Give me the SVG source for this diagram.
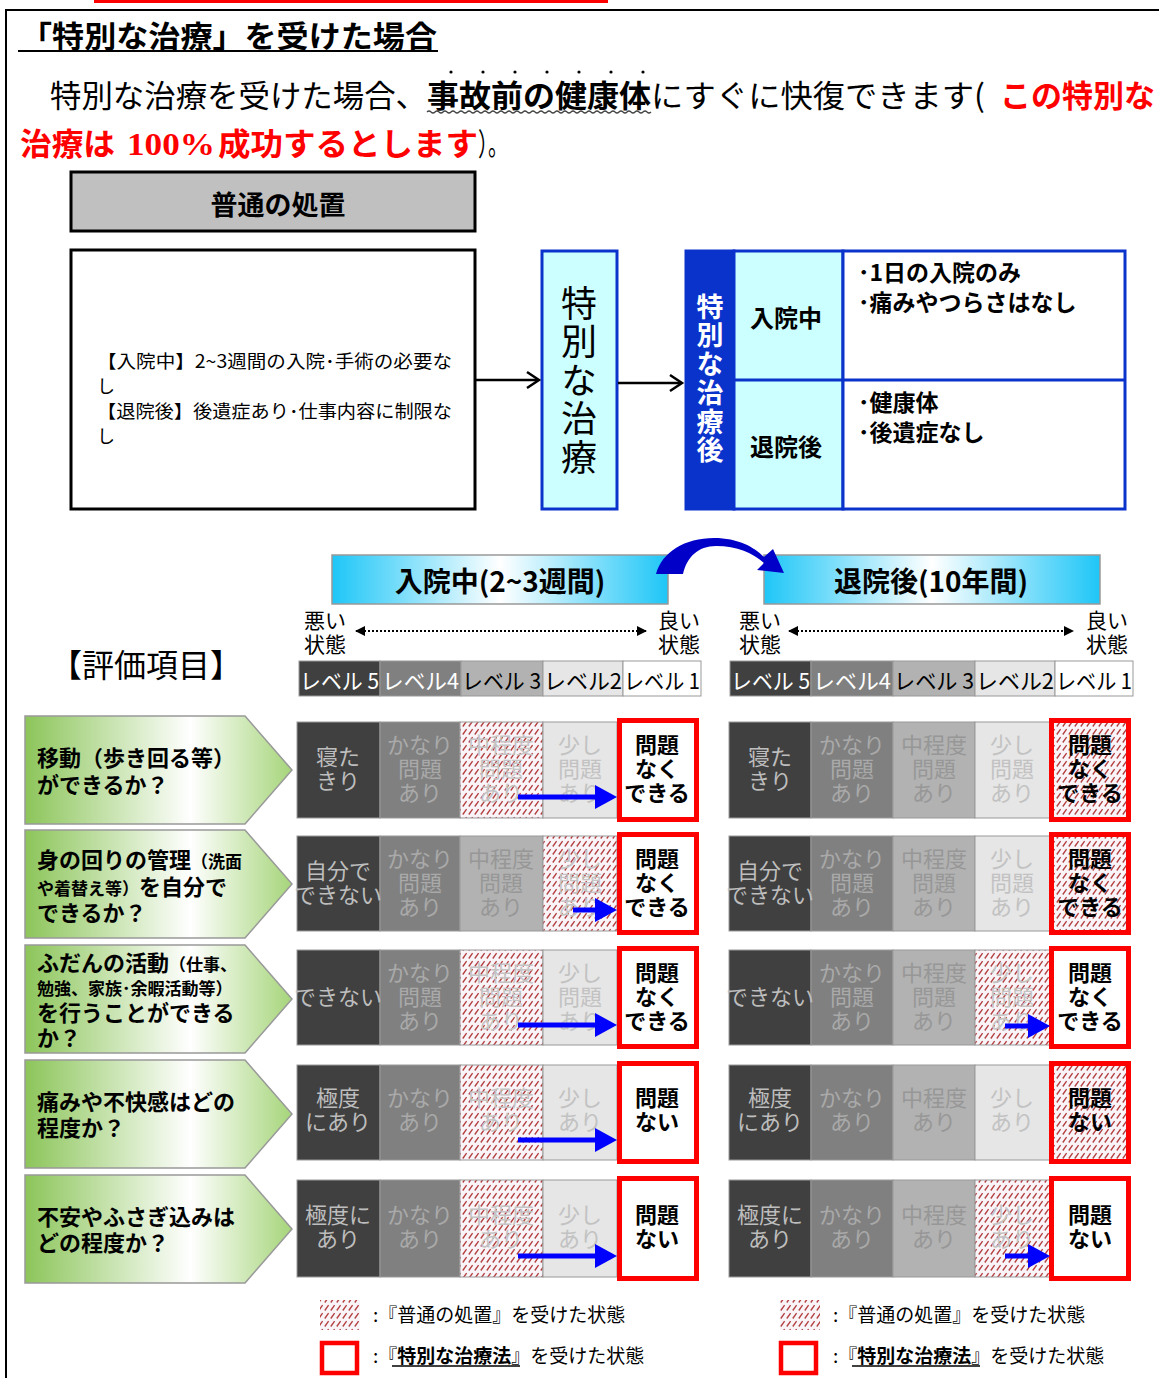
<svg xmlns="http://www.w3.org/2000/svg" width="1159" height="1378" viewBox="0 0 1159 1378">
<style>
text{font-family:"Noto Sans CJK JP","Noto Sans CJK SC",sans-serif;}
.b{font-weight:bold}
.c{text-anchor:middle;dominant-baseline:central}
.m{text-anchor:middle}
.cell{stroke:#999;stroke-width:1}
.l5{fill:#404040}.l4{fill:#808080}.l3{fill:#b2b2b2}.l2{fill:#e6e6e6}
.t5{fill:#bdbdbd}.t4{fill:#a9a9a9}.t3{fill:#979797}.t2{fill:#c2c2c2}.th{fill:#c4c4c4}
.ct{font-size:22px;text-anchor:middle}
.red{fill:#fff;stroke:#ff0000;stroke-width:5}
.hr{fill:url(#hatch);stroke:#ff0000;stroke-width:5}
.ok{font-size:22px;font-weight:bold;fill:#000;text-anchor:middle}
.pent{fill:url(#gGreen);stroke:#999;stroke-width:1.5}
.pt{font-size:22px;font-weight:bold}
.sm{font-size:17px}
.blue{stroke:#0000ff;stroke-width:5}
.bh{fill:#0000ff}
.lv{font-size:22px;dominant-baseline:central}
.vt{writing-mode:vertical-rl}
</style>
<defs>
<pattern id="hatch" width="6" height="8" patternUnits="userSpaceOnUse">
<rect width="6" height="8" fill="#f8f4f8"/>
<line x1="0.8" y1="6.5" x2="4.6" y2="1.2" stroke="#b23a3a" stroke-width="1.3"/>
</pattern>
<linearGradient id="gCyan" x1="0" y1="0" x2="1" y2="0">
<stop offset="0" stop-color="#1ec6f7"/><stop offset="0.5" stop-color="#ffffff"/><stop offset="1" stop-color="#1ec6f7"/>
</linearGradient>
<linearGradient id="gGreen" x1="0" y1="0" x2="1" y2="0">
<stop offset="0" stop-color="#8cc55a"/><stop offset="0.62" stop-color="#ffffff"/><stop offset="1" stop-color="#a6d57a"/>
</linearGradient>
<marker id="tri" viewBox="0 0 10 10" refX="9" refY="5" markerWidth="5" markerHeight="5" orient="auto-start-reverse"><path d="M0,0 L10,5 L0,10 Z" fill="#000"/></marker>
</defs>
<rect width="1159" height="1378" fill="#fff"/>
<!-- page frame -->
<line x1="94" y1="1.5" x2="608" y2="1.5" stroke="#ff0000" stroke-width="3"/>
<line x1="5" y1="10" x2="1159" y2="10" stroke="#000" stroke-width="2"/>
<line x1="6" y1="10" x2="6" y2="1378" stroke="#000" stroke-width="2"/>

<!-- heading and paragraph -->
<g id="title">
<text x="20" y="47" font-size="30" class="b" textLength="417" lengthAdjust="spacingAndGlyphs">「特別な治療」を受けた場合</text>
<line x1="18" y1="51" x2="438" y2="51" stroke="#000" stroke-width="2"/>
</g>
<g id="paragraph">
<text x="50" y="107" font-size="31" textLength="377" lengthAdjust="spacingAndGlyphs">特別な治療を受けた場合、</text>
<text x="427" y="107" font-size="31" class="b" textLength="224" lengthAdjust="spacingAndGlyphs">事故前の健康体</text>
<g fill="#000"><circle cx="451" cy="72" r="1.6"/><circle cx="483" cy="72" r="1.6"/><circle cx="515" cy="72" r="1.6"/><circle cx="547" cy="72" r="1.6"/><circle cx="579" cy="72" r="1.6"/><circle cx="611" cy="72" r="1.6"/><circle cx="643" cy="72" r="1.6"/></g>
<path d="M427,112 q2,-2 4,0 t4,0 t4,0 t4,0 t4,0 t4,0 t4,0 t4,0 t4,0 t4,0 t4,0 t4,0 t4,0 t4,0 t4,0 t4,0 t4,0 t4,0 t4,0 t4,0 t4,0 t4,0 t4,0 t4,0 t4,0 t4,0 t4,0 t4,0 t4,0 t4,0 t4,0 t4,0 t4,0 t4,0 t4,0 t4,0 t4,0 t4,0 t4,0 t4,0 t4,0 t4,0 t4,0 t4,0 t4,0 t4,0 t4,0 t4,0 t4,0 t4,0 t4,0 t4,0 t4,0 t4,0 t4,0 t4,0" fill="none" stroke="#444" stroke-width="1.2"/>
<text x="651" y="107" font-size="31" textLength="334" lengthAdjust="spacingAndGlyphs">にすぐに快復できます(</text>
<text x="1000" y="107" font-size="31" class="b" fill="#ff0000" textLength="155" lengthAdjust="spacingAndGlyphs">この特別な</text>
<text x="20" y="155" font-size="31" class="b" fill="#ff0000" textLength="95" lengthAdjust="spacingAndGlyphs">治療は</text>
<text x="127" y="155" font-size="32" font-weight="bold" fill="#ff0000" style="font-family:'Liberation Serif',serif" textLength="88" lengthAdjust="spacingAndGlyphs">100%</text>
<text x="218" y="155" font-size="31" class="b" fill="#ff0000" textLength="260" lengthAdjust="spacingAndGlyphs">成功するとします</text>
<text x="478" y="155" font-size="31" textLength="30" lengthAdjust="spacingAndGlyphs">）。</text>
</g>

<!-- top diagram -->
<g id="normal-header">
<rect x="71" y="172" width="404" height="59" fill="#c0c0c0" stroke="#000" stroke-width="3"/>
<text x="278" y="203" font-size="27" class="b c">普通の処置</text>
</g>
<g id="normal-box">
<rect x="71" y="250" width="404" height="259" fill="#fff" stroke="#000" stroke-width="3"/>
<text x="97" y="368" font-size="18"><tspan x="97" textLength="355" lengthAdjust="spacingAndGlyphs">【入院中】2~3週間の入院･手術の必要な</tspan><tspan x="97" dy="25">し</tspan><tspan x="97" dy="25" textLength="355" lengthAdjust="spacingAndGlyphs">【退院後】後遺症あり･仕事内容に制限な</tspan><tspan x="97" dy="25">し</tspan></text>
</g>
<g id="special-treatment">
<rect x="542" y="251" width="75" height="258" fill="#ccffff" stroke="#0a33cc" stroke-width="3"/>
<text x="579" y="285" font-size="36" class="vt" letter-spacing="2.5">特別な治療</text>
</g>
<g id="after-table">
<rect x="686" y="251" width="48" height="258" fill="#0a33cc" stroke="#0a33cc" stroke-width="3"/>
<rect x="734" y="251" width="109" height="258" fill="#ccffff" stroke="#0a33cc" stroke-width="3"/>
<rect x="843" y="251" width="282" height="258" fill="#fff" stroke="#0a33cc" stroke-width="3"/>
<line x1="734" y1="380" x2="1125" y2="380" stroke="#0a33cc" stroke-width="3"/>
<text x="710" y="293" font-size="27" class="b vt" fill="#fff" letter-spacing="1.7">特別な治療後</text>
<text x="786" y="316" font-size="24" class="b c">入院中</text>
<text x="786" y="445" font-size="24" class="b c">退院後</text>
<text x="858" y="281" font-size="23" class="b"><tspan x="858">･1日の入院のみ</tspan><tspan x="858" dy="30">･痛みやつらさはなし</tspan></text>
<text x="858" y="411" font-size="23" class="b"><tspan x="858">･健康体</tspan><tspan x="858" dy="30">･後遺症なし</tspan></text>
</g>
<g id="connectors-top" stroke="#000" stroke-width="2.5" fill="none">
<line x1="476" y1="380" x2="538" y2="380"/><polyline points="527,372 539,380 527,388"/>
<line x1="618" y1="383" x2="681" y2="383"/><polyline points="670,375 682,383 670,391"/>
</g>

<!-- period banners -->
<g id="banner-in">
<rect x="332" y="555" width="336" height="49" fill="url(#gCyan)" stroke="#999" stroke-width="1.5"/>
<text x="500" y="580" font-size="28" class="b c">入院中(2~3週間)</text>
</g>
<g id="banner-out">
<rect x="764" y="555" width="336" height="49" fill="url(#gCyan)" stroke="#999" stroke-width="1.5"/>
<text x="931" y="580" font-size="28" class="b c">退院後(10年間)</text>
</g>
<g id="curve-arrow">
<path d="M656,574 C662,552 685,538 714,538 C738,538 754,547 764,557 L773,549 L784,573 L757,570 L764,563 C753,553 737,546 716,546 C698,546 687,557 683,574 Z" fill="#0000c8"/>
</g>

<!-- scales -->
<g id="scale-left" font-size="21">
<text x="304" y="628"><tspan x="304">悪い</tspan><tspan x="304" dy="24">状態</tspan></text>
<text x="700" y="628" text-anchor="end"><tspan x="700">良い</tspan><tspan x="700" dy="24">状態</tspan></text>
<line x1="356" y1="631" x2="646" y2="631" stroke="#000" stroke-width="2" stroke-dasharray="2,2" marker-start="url(#tri)" marker-end="url(#tri)"/>
</g>
<g id="scale-right" font-size="21">
<text x="739" y="628"><tspan x="739">悪い</tspan><tspan x="739" dy="24">状態</tspan></text>
<text x="1128" y="628" text-anchor="end"><tspan x="1128">良い</tspan><tspan x="1128" dy="24">状態</tspan></text>
<line x1="789" y1="631" x2="1073" y2="631" stroke="#000" stroke-width="2" stroke-dasharray="2,2" marker-start="url(#tri)" marker-end="url(#tri)"/>
</g>
<g id="levels-left">
<rect x="299" y="661" width="81" height="35" class="l5 cell"/><rect x="380" y="661" width="81" height="35" class="l4 cell"/><rect x="461" y="661" width="82" height="35" class="l3 cell"/><rect x="543" y="661" width="80" height="35" class="l2 cell"/><rect x="623" y="661" width="78" height="35" fill="#fff" class="cell"/>
<text x="300" y="679" class="lv" fill="#fff" textLength="79" lengthAdjust="spacingAndGlyphs">レベル 5</text>
<text x="382" y="679" class="lv" fill="#fff" textLength="77" lengthAdjust="spacingAndGlyphs">レベル4</text>
<text x="462" y="679" class="lv" textLength="79" lengthAdjust="spacingAndGlyphs">レベル 3</text>
<text x="544" y="679" class="lv" textLength="78" lengthAdjust="spacingAndGlyphs">レベル2</text>
<text x="624" y="679" class="lv" textLength="76" lengthAdjust="spacingAndGlyphs">レベル 1</text>
</g>
<g id="levels-right">
<rect x="730" y="661" width="81" height="35" class="l5 cell"/><rect x="811" y="661" width="82" height="35" class="l4 cell"/><rect x="893" y="661" width="82" height="35" class="l3 cell"/><rect x="975" y="661" width="80" height="35" class="l2 cell"/><rect x="1055" y="661" width="78" height="35" fill="#fff" class="cell"/>
<text x="731" y="679" class="lv" fill="#fff" textLength="79" lengthAdjust="spacingAndGlyphs">レベル 5</text>
<text x="813" y="679" class="lv" fill="#fff" textLength="78" lengthAdjust="spacingAndGlyphs">レベル4</text>
<text x="894" y="679" class="lv" textLength="80" lengthAdjust="spacingAndGlyphs">レベル 3</text>
<text x="976" y="679" class="lv" textLength="78" lengthAdjust="spacingAndGlyphs">レベル2</text>
<text x="1056" y="679" class="lv" textLength="76" lengthAdjust="spacingAndGlyphs">レベル 1</text>
</g>
<text x="50" y="677" font-size="32">【評価項目】</text>

<!-- Row 1 (T=722) -->
<g id="item-1">
<polygon points="25,716 245,716 292,770 245,824 25,824" class="pent"/>
<text class="pt" x="37" y="766"><tspan x="37">移動（歩き回る等）</tspan><tspan x="37" dy="27">ができるか？</tspan></text>
</g>
<g id="row-1-left">
<rect x="297" y="722" width="83" height="96" class="l5 cell"/><rect x="380" y="722" width="80" height="96" class="l4 cell"/><rect x="460" y="722" width="83" height="96" fill="url(#hatch)" class="cell"/><rect x="543" y="722" width="74" height="96" class="l2 cell"/>
<text x="338" y="765" class="ct t5"><tspan x="338">寝た</tspan><tspan x="338" dy="24">きり</tspan></text>
<text x="420" y="753" class="ct t4"><tspan x="420">かなり</tspan><tspan x="420" dy="24">問題</tspan><tspan x="420" dy="24">あり</tspan></text>
<text x="501" y="753" class="ct th"><tspan x="501">中程度</tspan><tspan x="501" dy="24">問題</tspan><tspan x="501" dy="24">あり</tspan></text>
<text x="580" y="753" class="ct t2"><tspan x="580">少し</tspan><tspan x="580" dy="24">問題</tspan><tspan x="580" dy="24">あり</tspan></text>
<rect x="619.5" y="720.5" width="77" height="99" class="red"/>
<text x="657" y="753" class="ok"><tspan x="657">問題</tspan><tspan x="657" dy="24">なく</tspan><tspan x="657" dy="24">できる</tspan></text>
</g>
<g id="row-1-right">
<rect x="729" y="722" width="82" height="96" class="l5 cell"/><rect x="811" y="722" width="82" height="96" class="l4 cell"/><rect x="893" y="722" width="82" height="96" class="l3 cell"/><rect x="975" y="722" width="75" height="96" class="l2 cell"/>
<text x="770" y="765" class="ct t5"><tspan x="770">寝た</tspan><tspan x="770" dy="24">きり</tspan></text>
<text x="852" y="753" class="ct t4"><tspan x="852">かなり</tspan><tspan x="852" dy="24">問題</tspan><tspan x="852" dy="24">あり</tspan></text>
<text x="934" y="753" class="ct t3"><tspan x="934">中程度</tspan><tspan x="934" dy="24">問題</tspan><tspan x="934" dy="24">あり</tspan></text>
<text x="1012" y="753" class="ct t2"><tspan x="1012">少し</tspan><tspan x="1012" dy="24">問題</tspan><tspan x="1012" dy="24">あり</tspan></text>
<rect x="1051.5" y="720.5" width="77" height="99" class="hr"/>
<text x="1090" y="753" class="ok"><tspan x="1090">問題</tspan><tspan x="1090" dy="24">なく</tspan><tspan x="1090" dy="24">できる</tspan></text>
</g>

<!-- Row 2 (T=836) -->
<g id="item-2">
<polygon points="25,830 245,830 292,884 245,938 25,938" class="pent"/>
<text class="pt" x="37" y="868"><tspan x="37">身の回りの管理</tspan><tspan class="sm">（洗面</tspan><tspan x="37" dy="27" class="sm">や着替え等）</tspan><tspan>を自分で</tspan><tspan x="37" dy="26">できるか？</tspan></text>
</g>
<g id="row-2-left">
<rect x="297" y="836" width="83" height="95" class="l5 cell"/><rect x="380" y="836" width="80" height="95" class="l4 cell"/><rect x="460" y="836" width="83" height="95" class="l3 cell"/><rect x="543" y="836" width="74" height="95" fill="url(#hatch)" class="cell"/>
<text x="338" y="879" class="ct t5"><tspan x="338">自分で</tspan><tspan x="338" dy="24">できない</tspan></text>
<text x="420" y="867" class="ct t4"><tspan x="420">かなり</tspan><tspan x="420" dy="24">問題</tspan><tspan x="420" dy="24">あり</tspan></text>
<text x="501" y="867" class="ct t3"><tspan x="501">中程度</tspan><tspan x="501" dy="24">問題</tspan><tspan x="501" dy="24">あり</tspan></text>
<text x="580" y="867" class="ct th"><tspan x="580">少し</tspan><tspan x="580" dy="24">問題</tspan><tspan x="580" dy="24">あり</tspan></text>
<rect x="619.5" y="834.5" width="77" height="98" class="red"/>
<text x="657" y="867" class="ok"><tspan x="657">問題</tspan><tspan x="657" dy="24">なく</tspan><tspan x="657" dy="24">できる</tspan></text>
</g>
<g id="row-2-right">
<rect x="729" y="836" width="82" height="95" class="l5 cell"/><rect x="811" y="836" width="82" height="95" class="l4 cell"/><rect x="893" y="836" width="82" height="95" class="l3 cell"/><rect x="975" y="836" width="75" height="95" class="l2 cell"/>
<text x="770" y="879" class="ct t5"><tspan x="770">自分で</tspan><tspan x="770" dy="24">できない</tspan></text>
<text x="852" y="867" class="ct t4"><tspan x="852">かなり</tspan><tspan x="852" dy="24">問題</tspan><tspan x="852" dy="24">あり</tspan></text>
<text x="934" y="867" class="ct t3"><tspan x="934">中程度</tspan><tspan x="934" dy="24">問題</tspan><tspan x="934" dy="24">あり</tspan></text>
<text x="1012" y="867" class="ct t2"><tspan x="1012">少し</tspan><tspan x="1012" dy="24">問題</tspan><tspan x="1012" dy="24">あり</tspan></text>
<rect x="1051.5" y="834.5" width="77" height="98" class="hr"/>
<text x="1090" y="867" class="ok"><tspan x="1090">問題</tspan><tspan x="1090" dy="24">なく</tspan><tspan x="1090" dy="24">できる</tspan></text>
</g>

<!-- Row 3 (T=950) -->
<g id="item-3">
<polygon points="25,945 245,945 292,999 245,1053 25,1053" class="pent"/>
<text class="pt" x="37" y="971"><tspan x="37">ふだんの活動</tspan><tspan class="sm">（仕事、</tspan><tspan x="37" dy="24" class="sm">勉強、家族･余暇活動等）</tspan><tspan x="37" dy="26">を行うことができる</tspan><tspan x="37" dy="25">か？</tspan></text>
</g>
<g id="row-3-left">
<rect x="297" y="950" width="83" height="95" class="l5 cell"/><rect x="380" y="950" width="80" height="95" class="l4 cell"/><rect x="460" y="950" width="83" height="95" fill="url(#hatch)" class="cell"/><rect x="543" y="950" width="74" height="95" class="l2 cell"/>
<text x="338" y="1005" class="ct t5">できない</text>
<text x="420" y="981" class="ct t4"><tspan x="420">かなり</tspan><tspan x="420" dy="24">問題</tspan><tspan x="420" dy="24">あり</tspan></text>
<text x="501" y="981" class="ct th"><tspan x="501">中程度</tspan><tspan x="501" dy="24">問題</tspan><tspan x="501" dy="24">あり</tspan></text>
<text x="580" y="981" class="ct t2"><tspan x="580">少し</tspan><tspan x="580" dy="24">問題</tspan><tspan x="580" dy="24">あり</tspan></text>
<rect x="619.5" y="948.5" width="77" height="98" class="red"/>
<text x="657" y="981" class="ok"><tspan x="657">問題</tspan><tspan x="657" dy="24">なく</tspan><tspan x="657" dy="24">できる</tspan></text>
</g>
<g id="row-3-right">
<rect x="729" y="950" width="82" height="95" class="l5 cell"/><rect x="811" y="950" width="82" height="95" class="l4 cell"/><rect x="893" y="950" width="82" height="95" class="l3 cell"/><rect x="975" y="950" width="75" height="95" fill="url(#hatch)" class="cell"/>
<text x="770" y="1005" class="ct t5">できない</text>
<text x="852" y="981" class="ct t4"><tspan x="852">かなり</tspan><tspan x="852" dy="24">問題</tspan><tspan x="852" dy="24">あり</tspan></text>
<text x="934" y="981" class="ct t3"><tspan x="934">中程度</tspan><tspan x="934" dy="24">問題</tspan><tspan x="934" dy="24">あり</tspan></text>
<text x="1012" y="981" class="ct th"><tspan x="1012">少し</tspan><tspan x="1012" dy="24">問題</tspan><tspan x="1012" dy="24">あり</tspan></text>
<rect x="1051.5" y="948.5" width="77" height="98" class="red"/>
<text x="1090" y="981" class="ok"><tspan x="1090">問題</tspan><tspan x="1090" dy="24">なく</tspan><tspan x="1090" dy="24">できる</tspan></text>
</g>

<!-- Row 4 (T=1065) -->
<g id="item-4">
<polygon points="25,1060 245,1060 292,1114 245,1168 25,1168" class="pent"/>
<text class="pt" x="37" y="1110"><tspan x="37">痛みや不快感はどの</tspan><tspan x="37" dy="26">程度か？</tspan></text>
</g>
<g id="row-4-left">
<rect x="297" y="1065" width="83" height="95" class="l5 cell"/><rect x="380" y="1065" width="80" height="95" class="l4 cell"/><rect x="460" y="1065" width="83" height="95" fill="url(#hatch)" class="cell"/><rect x="543" y="1065" width="74" height="95" class="l2 cell"/>
<text x="338" y="1106" class="ct t5"><tspan x="338">極度</tspan><tspan x="338" dy="24">にあり</tspan></text>
<text x="420" y="1106" class="ct t4"><tspan x="420">かなり</tspan><tspan x="420" dy="24">あり</tspan></text>
<text x="501" y="1106" class="ct th"><tspan x="501">中程度</tspan><tspan x="501" dy="24">あり</tspan></text>
<text x="580" y="1106" class="ct t2"><tspan x="580">少し</tspan><tspan x="580" dy="24">あり</tspan></text>
<rect x="619.5" y="1063.5" width="77" height="98" class="red"/>
<text x="657" y="1106" class="ok"><tspan x="657">問題</tspan><tspan x="657" dy="24">ない</tspan></text>
</g>
<g id="row-4-right">
<rect x="729" y="1065" width="82" height="95" class="l5 cell"/><rect x="811" y="1065" width="82" height="95" class="l4 cell"/><rect x="893" y="1065" width="82" height="95" class="l3 cell"/><rect x="975" y="1065" width="75" height="95" class="l2 cell"/>
<text x="770" y="1106" class="ct t5"><tspan x="770">極度</tspan><tspan x="770" dy="24">にあり</tspan></text>
<text x="852" y="1106" class="ct t4"><tspan x="852">かなり</tspan><tspan x="852" dy="24">あり</tspan></text>
<text x="934" y="1106" class="ct t3"><tspan x="934">中程度</tspan><tspan x="934" dy="24">あり</tspan></text>
<text x="1012" y="1106" class="ct t2"><tspan x="1012">少し</tspan><tspan x="1012" dy="24">あり</tspan></text>
<rect x="1051.5" y="1063.5" width="77" height="98" class="hr"/>
<text x="1090" y="1106" class="ok"><tspan x="1090">問題</tspan><tspan x="1090" dy="24">ない</tspan></text>
</g>

<!-- Row 5 (T=1180) -->
<g id="item-5">
<polygon points="25,1175 245,1175 292,1229 245,1283 25,1283" class="pent"/>
<text class="pt" x="37" y="1225"><tspan x="37">不安やふさぎ込みは</tspan><tspan x="37" dy="26">どの程度か？</tspan></text>
</g>
<g id="row-5-left">
<rect x="297" y="1180" width="83" height="97" class="l5 cell"/><rect x="380" y="1180" width="80" height="97" class="l4 cell"/><rect x="460" y="1180" width="83" height="97" fill="url(#hatch)" class="cell"/><rect x="543" y="1180" width="74" height="97" class="l2 cell"/>
<text x="338" y="1223" class="ct t5"><tspan x="338">極度に</tspan><tspan x="338" dy="24">あり</tspan></text>
<text x="420" y="1223" class="ct t4"><tspan x="420">かなり</tspan><tspan x="420" dy="24">あり</tspan></text>
<text x="501" y="1223" class="ct th"><tspan x="501">中程度</tspan><tspan x="501" dy="24">あり</tspan></text>
<text x="580" y="1223" class="ct t2"><tspan x="580">少し</tspan><tspan x="580" dy="24">あり</tspan></text>
<rect x="619.5" y="1178.5" width="77" height="100" class="red"/>
<text x="657" y="1223" class="ok"><tspan x="657">問題</tspan><tspan x="657" dy="24">ない</tspan></text>
</g>
<g id="row-5-right">
<rect x="729" y="1180" width="82" height="97" class="l5 cell"/><rect x="811" y="1180" width="82" height="97" class="l4 cell"/><rect x="893" y="1180" width="82" height="97" class="l3 cell"/><rect x="975" y="1180" width="75" height="97" fill="url(#hatch)" class="cell"/>
<text x="770" y="1223" class="ct t5"><tspan x="770">極度に</tspan><tspan x="770" dy="24">あり</tspan></text>
<text x="852" y="1223" class="ct t4"><tspan x="852">かなり</tspan><tspan x="852" dy="24">あり</tspan></text>
<text x="934" y="1223" class="ct t3"><tspan x="934">中程度</tspan><tspan x="934" dy="24">あり</tspan></text>
<text x="1012" y="1223" class="ct th"><tspan x="1012">少し</tspan><tspan x="1012" dy="24">あり</tspan></text>
<rect x="1051.5" y="1178.5" width="77" height="100" class="red"/>
<text x="1090" y="1223" class="ok"><tspan x="1090">問題</tspan><tspan x="1090" dy="24">ない</tspan></text>
</g>

<!-- improvement arrows -->
<g id="connectors">
<line x1="518" y1="797" x2="597" y2="797" class="blue"/><polygon points="595,785 617,797 595,809" class="bh"/>
<line x1="573" y1="910" x2="597" y2="910" class="blue"/><polygon points="595,898 617,910 595,922" class="bh"/>
<line x1="518" y1="1025" x2="597" y2="1025" class="blue"/><polygon points="595,1013 617,1025 595,1037" class="bh"/>
<line x1="518" y1="1140" x2="597" y2="1140" class="blue"/><polygon points="595,1128 617,1140 595,1152" class="bh"/>
<line x1="518" y1="1256" x2="597" y2="1256" class="blue"/><polygon points="595,1244 617,1256 595,1268" class="bh"/>
<line x1="1005" y1="1026" x2="1030" y2="1026" class="blue"/><polygon points="1028,1014 1050,1026 1028,1038" class="bh"/>
<line x1="1005" y1="1256" x2="1030" y2="1256" class="blue"/><polygon points="1028,1244 1050,1256 1028,1268" class="bh"/>
</g>

<!-- legends -->
<g id="legend-left" font-size="19">
<rect x="320" y="1300" width="40" height="30" fill="url(#hatch)"/>
<text x="373" y="1322">:『普通の処置』を受けた状態</text>
<rect x="322" y="1343" width="35" height="30" fill="#fff" stroke="#ff0000" stroke-width="4.5"/>
<text x="373" y="1363">:『<tspan class="b">特別な治療法</tspan>』を受けた状態</text>
<line x1="392" y1="1366" x2="520" y2="1366" stroke="#000" stroke-width="1.5"/>
</g>
<g id="legend-right" font-size="19">
<rect x="780" y="1300" width="40" height="30" fill="url(#hatch)"/>
<text x="833" y="1322">:『普通の処置』を受けた状態</text>
<rect x="781" y="1343" width="35" height="30" fill="#fff" stroke="#ff0000" stroke-width="4.5"/>
<text x="833" y="1363">:『<tspan class="b">特別な治療法</tspan>』を受けた状態</text>
<line x1="852" y1="1366" x2="980" y2="1366" stroke="#000" stroke-width="1.5"/>
</g>
</svg>
